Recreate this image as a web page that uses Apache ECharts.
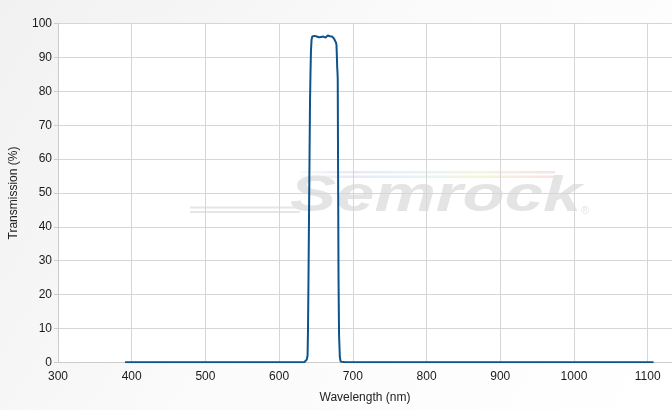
<!DOCTYPE html>
<html>
<head>
<meta charset="utf-8">
<script src="https://cdn.jsdelivr.net/npm/echarts@6/dist/echarts.min.js"></script>
<style>html,body{margin:0;padding:0;}#c{width:672px;height:410px;}</style>
</head>
<body>
<div id="c"></div>
<script>
// Wavelength (nm)
const wavelength = [391, 620, 634, 636.5, 637.5, 638.6, 639.2, 639.8, 640.5, 641.3, 641.9, 642.6, 643.2, 644, 645, 646.5, 648, 649.5, 651, 652.5, 654, 655.5, 657, 658.5, 660, 661.5, 663, 664.5, 666, 667.5, 669, 670.5, 672, 673.5, 674.7, 676, 677, 677.8, 678.4, 678.8, 679.1, 679.5, 679.8, 680.1, 680.6, 681.3, 682.4, 683.5, 690, 1108];
// Transmission (%)
const transmission = [0, 0, 0, 0.3, 0.8, 2, 10, 24, 42, 62, 77, 86, 92, 95.3, 96.2, 95.8, 96.4, 95.9, 96.2, 96.5, 96, 96.4, 96.1, 96.5, 96.2, 96.4, 95.9, 96.3, 96.5, 96.1, 96.3, 95.8, 96.2, 95.7, 95.5, 95.3, 94.5, 93.8, 90, 87, 86, 84, 83.5, 50, 24, 8, 1.5, 0.2, 0, 0];
const xTicks = {min: 300, max: 1133, interval: 100};
const yTicks = {min: 0, max: 100, interval: 10};

const data = wavelength.map((w, i) => [w, transmission[i]]);
const chart = echarts.init(document.getElementById('c'), null, {renderer: 'canvas'});
const font = 'Liberation Sans, Arial, sans-serif';
const rainbow = () => new echarts.graphic.LinearGradient(0, 0, 1, 0, [
  {offset: 0, color: 'rgba(230,230,240,0.2)'}, {offset: 0.2, color: '#e8e8f8'}, {offset: 0.45, color: '#e4f4f8'},
  {offset: 0.7, color: '#f4f6dc'}, {offset: 1, color: '#f8e2e2'}]);
chart.setOption({
  animation: false,
  backgroundColor: new echarts.graphic.LinearGradient(0, 0, 1, 1, [
    {offset: 0, color: '#f1f1f1'}, {offset: 0.5, color: '#fbfbfb'}, {offset: 1, color: '#ffffff'}
  ]),
  grid: {left: 57.7, right: -2, top: 23.7, bottom: 47.7, show: true, backgroundColor: '#ffffff', borderWidth: 0},
  graphic: [
    {type: 'group', x: 0, y: 0, z: 0, silent: true, children: [
      {type: 'rect', shape: {x: 300, y: 171, width: 255, height: 2.5}, style: {fill: rainbow()}},
      {type: 'rect', shape: {x: 300, y: 175.5, width: 255, height: 2.5}, style: {fill: rainbow()}},
      {type: 'rect', shape: {x: 190, y: 206.5, width: 110, height: 2}, style: {fill: '#e6e6e6'}},
      {type: 'rect', shape: {x: 190, y: 211, width: 110, height: 2}, style: {fill: '#e6e6e6'}},
      {type: 'text', x: 290, y: 222, scaleX: 1.38, originX: 0, originY: 0,
        style: {text: 'Semrock', font: 'italic bold 50px Liberation Sans, Arial, sans-serif', fill: '#e4e4e4', verticalAlign: 'bottom'}},
      {type: 'text', x: 581, y: 205, style: {text: '®', font: '11px Liberation Sans, Arial, sans-serif', fill: '#e3e3e3'}}
    ]}
  ],
  xAxis: {
    type: 'value', min: xTicks.min, max: xTicks.max, interval: xTicks.interval,
    name: 'Wavelength (nm)', nameLocation: 'middle', nameGap: 29,
    nameTextStyle: {fontFamily: font, fontSize: 12, color: '#222'},
    axisLine: {show: true, lineStyle: {color: '#cccccc', width: 1}},
    axisTick: {show: false},
    axisLabel: {fontFamily: font, fontSize: 12, color: '#1a1a1a', margin: 8, showMaxLabel: false,
      formatter: v => String(v)},
    splitLine: {show: true, lineStyle: {color: '#d6d6d6', width: 1}}
  },
  yAxis: {
    type: 'value', min: yTicks.min, max: yTicks.max, interval: yTicks.interval,
    name: 'Transmission (%)', nameLocation: 'middle', nameGap: 38,
    nameTextStyle: {fontFamily: font, fontSize: 12, color: '#222'},
    axisLine: {show: true, lineStyle: {color: '#cccccc', width: 1}},
    axisTick: {show: true, length: 4, lineStyle: {color: '#cccccc'}},
    axisLabel: {fontFamily: font, fontSize: 12, color: '#1a1a1a', margin: 6},
    splitLine: {show: true, lineStyle: {color: '#d6d6d6', width: 1}}
  },
  series: [{
    type: 'line', data: data, showSymbol: false, smooth: false,
    lineStyle: {color: '#0d5289', width: 2}, z: 3
  }]
});
</script>
</body>
</html>
